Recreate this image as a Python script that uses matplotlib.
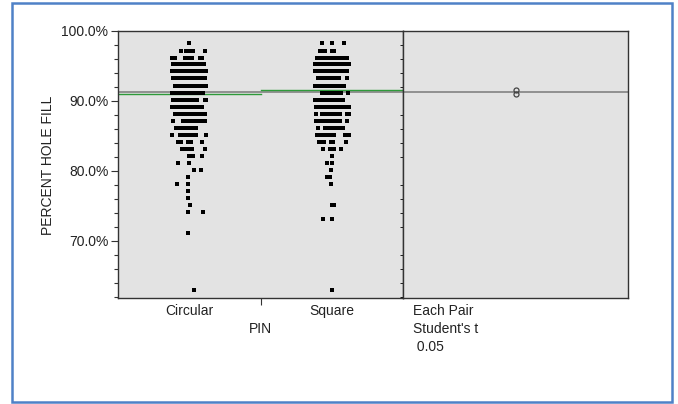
import matplotlib
matplotlib.use("Agg")
import matplotlib.pyplot as plt
from matplotlib.patches import Rectangle
from matplotlib.ticker import FixedLocator, FuncFormatter

plt.rcParams['font.family'] = ['Liberation Sans', 'DejaVu Sans']
plt.rcParams['text.color'] = '#222222'
plt.rcParams['ytick.labelcolor'] = '#222222'

# groups on the x axis
groups = ["Circular", "Square"]

# row levels (percent hole fill) and horizontal jitter slots of the points in each row
circ_levels = [98.3, 97.2, 96.2, 95.3, 94.3, 93.3, 92.2, 91.2, 90.2, 89.2, 88.1, 87.2, 86.2,
               85.2, 84.2, 83.1, 82.1, 81.1, 80.2, 79.2, 78.2, 77.2, 76.2, 75.2, 74.2, 71.1, 63.0]
circ_jitter = [[0], [-8, -3, 0, 4, 16], [-17, -14, -4, -1, 3, 11, 13],
               [-16, -12, -8, -4, 0, 4, 8, 12, 15], [-17, -13, -9, -5, -1, 3, 7, 11, 15, 17],
               [-16, -12, -8, -4, 0, 4, 8, 12, 16], [-14, -10, -6, -2, 2, 6, 10, 14, 17],
               [-17, -13, -9, -5, -1, 3, 7, 11, 14], [-16, -12, -8, -4, 0, 4, 8, 16, 17],
               [-17, -13, -9, -5, -1, 3, 7, 10, 13], [-14, -10, -6, -2, 2, 6, 10, 14, 16],
               [-16, -6, -2, 2, 6, 10, 14, 16], [-13, -9, -5, -1, 3, 7],
               [-17, -9, -5, -1, 3, 7, 17], [-11, -8, -1, 2, 13], [-7, -3, 1, 3, 16],
               [0, 4, 13], [-11, 0], [5, 12], [-1], [-12, -1], [-1], [-1], [1], [-1, 14],
               [-1], [5]]

sq_levels = [98.3, 97.2, 96.2, 95.3, 94.3, 93.3, 92.2, 91.2, 90.2, 89.2, 88.2, 87.2, 86.2,
             85.2, 84.2, 83.1, 82.2, 81.1, 80.2, 79.2, 78.2, 75.2, 73.1, 63.0]
sq_jitter = [[-10, 0, 12], [-12, -9, -7, 0, 2], [-15, -11, -7, -3, 1, 5, 9, 13, 15],
             [-17, -13, -9, -5, -1, 3, 7, 11, 15, 17], [-17, -13, -9, -5, -1, 3, 7, 11, 15],
             [-14, -10, -6, -2, 2, 6, 7, 15], [-17, -13, -9, -5, -1, 3, 7, 11, 12],
             [-10, -7, -3, 1, 5, 9, 16], [-17, -13, -9, -5, -1, 3, 7, 11],
             [-16, -12, -8, -4, 0, 4, 8, 12, 16, 17], [-16, -10, -6, -2, 2, 6, 8, 15, 17],
             [-16, -12, -8, -4, 0, 4, 8, 15], [-14, -7, -3, 1, 5, 9, 11],
             [-15, -11, -7, -3, 0, 2, 13, 17], [-13, -10, -8, -1, 1, 14], [-9, -2, 2, 9],
             [0], [-5, 0], [-1], [-5, -2], [-1], [0, 2], [-9, 0], [0]]

group_means = [90.95, 91.62]
grand_mean = 91.25

y_ticks = [70, 80, 90, 100]
y_minor = [62, 64, 66, 68, 72, 74, 76, 78, 82, 84, 86, 88, 92, 94, 96, 98]

W, H = 678, 404
fig = plt.figure(figsize=(W / 100, H / 100), dpi=100)
fig.patch.set_facecolor('white')

bg = '#e3e3e3'
edge = '#333333'
ax = fig.add_axes([118 / W, (H - 298) / H, 285 / W, 267 / H])
ax2 = fig.add_axes([403 / W, (H - 298) / H, 225 / W, 267 / H], sharey=ax)
for a in (ax, ax2):
    a.set_facecolor(bg)
    for s in a.spines.values():
        s.set_color(edge)
        s.set_linewidth(1.0)

ax.set_xlim(0, 2)
ax.set_ylim(61.85, 100)
slot = 1 / 142.5  # one jitter slot = one pixel of the left panel

for i, (levels, jit) in enumerate([(circ_levels, circ_jitter), (sq_levels, sq_jitter)]):
    xs, ys = [], []
    for lv, offs in zip(levels, jit):
        for o in offs:
            xs.append(i + 0.5 + o * slot)
            ys.append(lv)
    ax.plot(xs, ys, 's', color='black', ms=3.4, mew=0, zorder=3)

# group means (green) and grand mean (gray)
for i, m in enumerate(group_means):
    ax.plot([i, i + 1], [m, m], color='#2e9a3a', lw=1.0, zorder=2)
ax.axhline(grand_mean, color='#8a8a8a', lw=1.3, zorder=1)
ax2.axhline(grand_mean, color='#8a8a8a', lw=1.3, zorder=1)

# comparison circles
ax2.set_xlim(0, 1)
ax2.plot([0.5] * len(group_means), group_means, 'o', mfc='none', mec='#444444',
         ms=3.6, mew=0.9, zorder=3)

ax.yaxis.set_major_locator(FixedLocator(y_ticks))
ax.yaxis.set_minor_locator(FixedLocator(y_minor))
ax.yaxis.set_major_formatter(FuncFormatter(lambda v, p: f"{v:.1f}%"))
ax.tick_params(axis='y', which='major', length=5, width=0.8, color=edge, labelsize=10, pad=2)
ax.tick_params(axis='y', which='minor', length=3, width=0.8, color=edge)
ax.set_xticks([1])
ax.set_xticklabels([''])
ax.tick_params(axis='x', length=5, width=0.8, color=edge)
ax2.tick_params(left=False, labelleft=False, bottom=False, labelbottom=False)

xt = ax.get_xaxis_transform()
for i, g in enumerate(groups):
    ax.text(i + 0.5, -0.049, g, transform=xt, ha='center', va='center', fontsize=10)
ax.text(1, -0.116, "PIN", transform=xt, ha='center', va='center', fontsize=10)

for k, t in enumerate(["Each Pair", "Student's t", " 0.05"]):
    ax2.text(0.044, -0.049 - k * 0.0675, t, transform=ax2.transAxes,
             ha='left', va='center', fontsize=10)

fig.text(48 / W, 1 - 165 / H, "PERCENT HOLE FILL", rotation=90,
         ha='center', va='center', fontsize=10)

# blue frame around the whole picture
fig.patches.append(Rectangle((11.5 / W, 2.5 / H), 660 / W, 399 / H, transform=fig.transFigure,
                             fill=False, edgecolor='#4f81c7', lw=1.8))

fig.savefig("out.png", dpi=100)
